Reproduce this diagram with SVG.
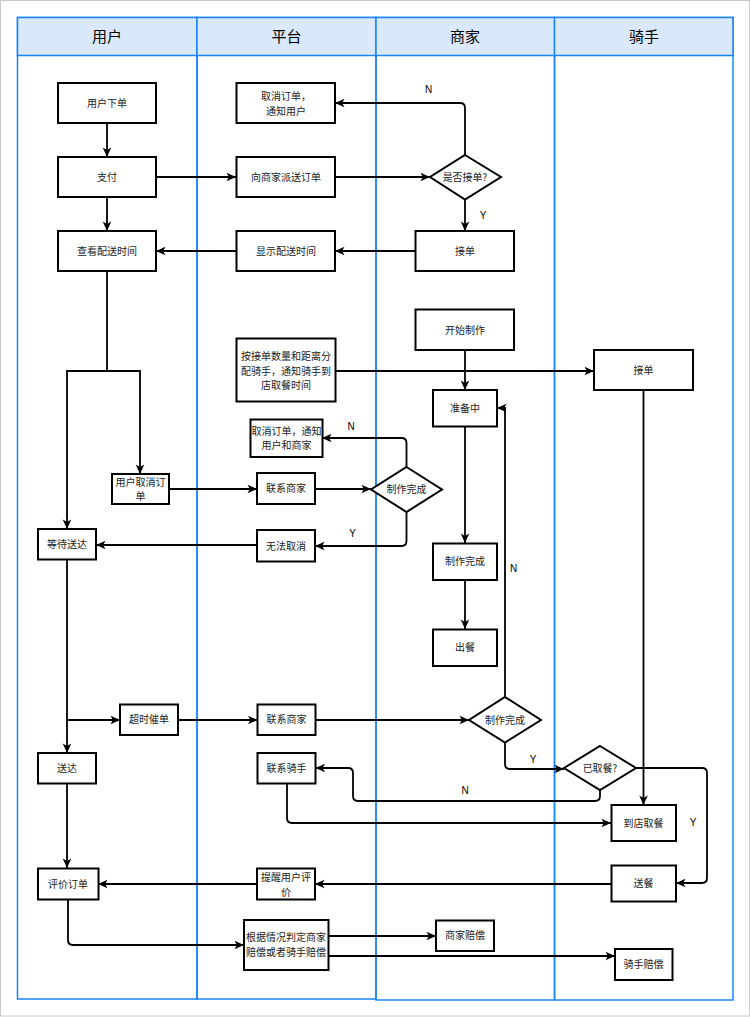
<svg xmlns="http://www.w3.org/2000/svg" width="750" height="1017" viewBox="0 0 750 1017">
<defs>
<marker id="arr" viewBox="0 0 10 10" refX="10" refY="5" markerWidth="10.5" markerHeight="9.5" markerUnits="userSpaceOnUse" orient="auto">
<path d="M0,0.5 L10,5 L0,9.5 L2.5,5 z" fill="#000"/>
</marker>
<style>
.lane{fill:none;stroke:#1a84ff;stroke-width:1.5}
.hdr{fill:#dae8fc;stroke:#1a84ff;stroke-width:1.5}
.ht{font-family:"Noto Sans CJK SC","Noto Sans",sans-serif;font-size:15px;text-anchor:middle;fill:#000}
.box{fill:#fff;stroke:#000;stroke-width:2}
.t{font-family:"Noto Sans CJK SC","Noto Sans",sans-serif;font-size:10px;text-anchor:middle;fill:#222}
.lbl{font-family:"Liberation Sans","Noto Sans",sans-serif;font-size:10px;text-anchor:middle;fill:#000}
.c{fill:none;stroke:#000;stroke-width:1.8}
.a{marker-end:url(#arr)}
</style>
</defs>
<rect x="0.5" y="0.5" width="749" height="1015.5" fill="#fff" stroke="#c8c8c8" stroke-width="1"/>
<g id="lanes">
<rect class="lane" x="17.5" y="17.5" width="179.5" height="981.5"/>
<rect class="lane" x="197" y="17.5" width="179" height="981.5"/>
<rect class="lane" x="376" y="17.5" width="178.5" height="982.5"/>
<rect class="lane" x="554.5" y="17.5" width="178.5" height="982.5"/>
<rect class="hdr" x="17.5" y="17.5" width="179.5" height="38"/>
<rect class="hdr" x="197" y="17.5" width="179" height="38"/>
<rect class="hdr" x="376" y="17.5" width="178.5" height="38"/>
<rect class="hdr" x="554.5" y="17.5" width="178.5" height="38"/>
<text class="ht" x="107" y="41.5">用户</text>
<text class="ht" x="286.5" y="41.5">平台</text>
<text class="ht" x="465" y="41.5">商家</text>
<text class="ht" x="644" y="41.5">骑手</text>
</g>
<g id="connectors">
<path class="c a" d="M107,123 L107,157"/>
<path class="c a" d="M107,197 L107,231"/>
<path class="c a" d="M156,177 L236,177"/>
<path class="c a" d="M335,177 L430,177"/>
<path class="c a" d="M465,155 L465,108 Q465,103 460,103 L335,103"/>
<path class="c a" d="M465,199 L465,231"/>
<path class="c a" d="M415,251 L335,251"/>
<path class="c a" d="M236,251 L156,251"/>
<path class="c a" d="M107,271 L107,371 L67,371 L67,529"/>
<path class="c a" d="M107,371 L140,371 L140,474"/>
<path class="c a" d="M336,371 L594,371"/>
<path class="c a" d="M465,350 L465,390"/>
<path class="c a" d="M169,489 L257,489"/>
<path class="c a" d="M315,489 L371,489"/>
<path class="c a" d="M406.5,467 L406.5,443 Q406.5,438 401.5,438 L322,438"/>
<path class="c a" d="M406.5,512 L406.5,541 Q406.5,546 401.5,546 L315,546"/>
<path class="c a" d="M257,545 L96,545"/>
<path class="c a" d="M465,427 L465,543"/>
<path class="c a" d="M465,580 L465,629"/>
<path class="c a" d="M67,559 L67,753"/>
<path class="c a" d="M67,720 L120,720"/>
<path class="c a" d="M178,720 L257.5,720"/>
<path class="c a" d="M315.5,720 L469,720"/>
<path class="c a" d="M505,697 L505,408 L497,408"/>
<path class="c a" d="M505,742 L505,764 Q505,769 510,769 L564,769"/>
<path class="c a" d="M636,768 L702,768 Q707,768 707,773 L707,878 Q707,883 702,883 L676,883"/>
<path class="c a" d="M600,790 L600,796 Q600,801 595,801 L358,801 Q353,801 353,796 L353,773 Q353,768 348,768 L315.5,768"/>
<path class="c a" d="M643.5,390 L643.5,805"/>
<path class="c a" d="M287,783 L287,818 Q287,823 292,823 L611,823"/>
<path class="c a" d="M67,783 L67,868"/>
<path class="c a" d="M611,884 L315,884"/>
<path class="c a" d="M257,884 L98,884"/>
<path class="c a" d="M68,899 L68,940 Q68,945 73,945 L244,945"/>
<path class="c a" d="M328,936 L436,936"/>
<path class="c a" d="M328,956 L615,956"/>
<text class="lbl" x="428.5" y="93">N</text>
<text class="lbl" x="483" y="218.5">Y</text>
<text class="lbl" x="351" y="429.5">N</text>
<text class="lbl" x="352.5" y="537">Y</text>
<text class="lbl" x="513.5" y="571.5">N</text>
<text class="lbl" x="533" y="763">Y</text>
<text class="lbl" x="465" y="794">N</text>
<text class="lbl" x="693" y="826">Y</text>
</g>
<g id="n-user-order"><rect class="box" x="58" y="83" width="98" height="40"/><text class="t" x="107" y="106.5">用户下单</text></g>
<g id="n-pay"><rect class="box" x="58" y="157" width="98" height="40"/><text class="t" x="107" y="180.5">支付</text></g>
<g id="n-view-time"><rect class="box" x="58" y="231" width="98" height="40"/><text class="t" x="107" y="254.5">查看配送时间</text></g>
<g id="n-cancel-notify"><rect class="box" x="236.5" y="83" width="98.5" height="40"/><text class="t" x="286" y="100.1">取消订单，<tspan x="286" dy="14.5">通知用户</tspan></text></g>
<g id="n-dispatch"><rect class="box" x="236.5" y="157" width="98.5" height="40"/><text class="t" x="286" y="180.5">向商家派送订单</text></g>
<g id="n-show-time"><rect class="box" x="236.5" y="231" width="98.5" height="40"/><text class="t" x="286" y="254.5">显示配送时间</text></g>
<g id="n-accept-q"><polygon class="box" points="465,155 501,177 465,199.5 430,177"/><text class="t" x="465" y="180.5">是否接单?</text></g>
<g id="n-merchant-accept"><rect class="box" x="415.5" y="231" width="98.5" height="40"/><text class="t" x="465" y="254.5">接单</text></g>
<g id="n-start-cook"><rect class="box" x="415.5" y="309.5" width="98.5" height="40.5"/><text class="t" x="465" y="333.5">开始制作</text></g>
<g id="n-assign-rider"><rect class="box" x="236.5" y="338.5" width="99" height="63"/><text class="t" x="286" y="360">按接单数量和距离分<tspan x="286" dy="14.5">配骑手，通知骑手到</tspan><tspan x="286" dy="14.5">店取餐时间</tspan></text></g>
<g id="n-rider-accept"><rect class="box" x="594" y="350" width="99" height="40"/><text class="t" x="643.5" y="373.5">接单</text></g>
<g id="n-preparing"><rect class="box" x="433" y="390" width="64" height="36.5"/><text class="t" x="465" y="411.8">准备中</text></g>
<g id="n-cancel-both"><rect class="box" x="250.5" y="419.5" width="72" height="37.5"/><text class="t" x="286.5" y="434.8">取消订单，通知<tspan x="286.5" dy="14.5">用户和商家</tspan></text></g>
<g id="n-user-cancel"><rect class="box" x="112" y="474" width="57" height="30"/><text class="t" x="140.5" y="485.5">用户取消订<tspan x="140.5" dy="14.5">单</tspan></text></g>
<g id="n-contact-merchant-1"><rect class="box" x="257" y="473" width="58" height="31"/><text class="t" x="286" y="492">联系商家</text></g>
<g id="n-cooked-q1"><polygon class="box" points="406.5,467 442,489.5 406.5,512 371,489.5"/><text class="t" x="406.5" y="493">制作完成</text></g>
<g id="n-wait"><rect class="box" x="38" y="529" width="58" height="30.5"/><text class="t" x="67" y="547.5">等待送达</text></g>
<g id="n-cannot-cancel"><rect class="box" x="257" y="530" width="58" height="31.5"/><text class="t" x="286" y="549.5">无法取消</text></g>
<g id="n-cooked"><rect class="box" x="433" y="543.5" width="64" height="36.5"/><text class="t" x="465" y="565">制作完成</text></g>
<g id="n-serve"><rect class="box" x="433" y="629.5" width="64" height="36.5"/><text class="t" x="465" y="651.2">出餐</text></g>
<g id="n-urge"><rect class="box" x="120" y="704.5" width="58" height="30.5"/><text class="t" x="149" y="723.3">超时催单</text></g>
<g id="n-contact-merchant-2"><rect class="box" x="257.5" y="704.5" width="58" height="30.5"/><text class="t" x="286.5" y="723.3">联系商家</text></g>
<g id="n-cooked-q2"><polygon class="box" points="505,697 541,720 505,742.5 469,720"/><text class="t" x="505" y="723.5">制作完成</text></g>
<g id="n-picked-q"><polygon class="box" points="600,746 636,768 600,790 564,768"/><text class="t" x="600" y="771.5">已取餐?</text></g>
<g id="n-delivered"><rect class="box" x="38" y="753" width="58" height="30.5"/><text class="t" x="67" y="771.5">送达</text></g>
<g id="n-contact-rider"><rect class="box" x="257.5" y="753" width="58" height="30.5"/><text class="t" x="286.5" y="771.5">联系骑手</text></g>
<g id="n-pickup"><rect class="box" x="611.5" y="805" width="64.5" height="36"/><text class="t" x="643.5" y="826.5">到店取餐</text></g>
<g id="n-deliver"><rect class="box" x="611.5" y="865.5" width="64.5" height="36"/><text class="t" x="643.5" y="887">送餐</text></g>
<g id="n-rate"><rect class="box" x="38" y="868.5" width="60.5" height="31"/><text class="t" x="68" y="887.5">评价订单</text></g>
<g id="n-remind-rate"><rect class="box" x="257" y="868.5" width="58" height="31"/><text class="t" x="286" y="881.1">提醒用户评<tspan x="286" dy="14.5">价</tspan></text></g>
<g id="n-judge"><rect class="box" x="244" y="920" width="84.5" height="50"/><text class="t" x="286" y="941.2">根据情况判定商家<tspan x="286" dy="14.5">赔偿或者骑手赔偿</tspan></text></g>
<g id="n-merchant-comp"><rect class="box" x="436" y="920.5" width="58" height="30.5"/><text class="t" x="465" y="939.3">商家赔偿</text></g>
<g id="n-rider-comp"><rect class="box" x="615" y="949" width="57.5" height="31"/><text class="t" x="643.5" y="968">骑手赔偿</text></g>
</svg>
